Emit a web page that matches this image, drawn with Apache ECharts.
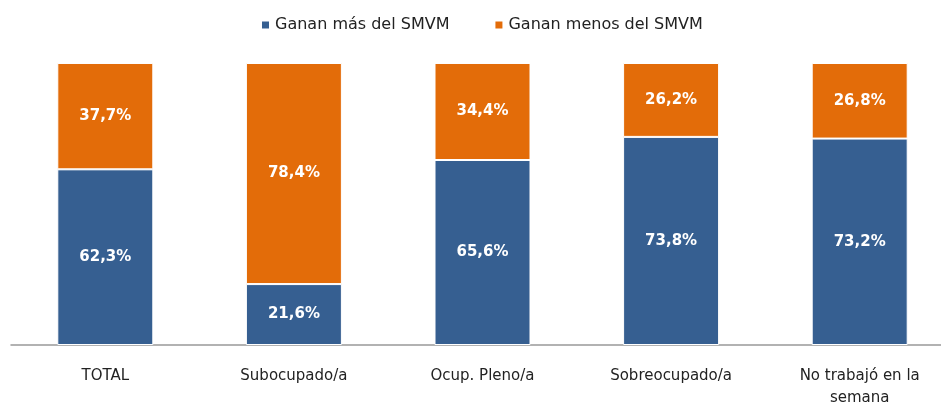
<!DOCTYPE html>
<html><head><meta charset="utf-8">
<script src="https://cdn.jsdelivr.net/npm/echarts@6/dist/echarts.min.js"></script>
<style>html,body{margin:0;padding:0;background:#fff}#c{width:941px;height:403px}</style>
</head><body><div id="c"></div>
<script>
const categories = ['TOTAL', 'Subocupado/a', 'Ocup. Pleno/a', 'Sobreocupado/a', 'No trabajó en la\nsemana'];
const seriesNames = ['Ganan más del SMVM', 'Ganan menos del SMVM'];
const masValues = [62.3, 21.6, 65.6, 73.8, 73.2];
const menosValues = [37.7, 78.4, 34.4, 26.2, 26.8];

const fmt = p => p.value.toFixed(1).replace('.', ',') + '%';
const font = 'DejaVu Sans';
const labelStyle = { show: true, position: 'inside', color: '#fff', fontWeight: 'bold', fontSize: 15, fontFamily: font, formatter: fmt };

const chart = echarts.init(document.getElementById('c'));
chart.setOption({
  animation: false,
  legend: {
    top: 12, left: 255, itemWidth: 9, itemHeight: 9, itemGap: 44,
    icon: 'rect',
    textStyle: { fontSize: 16, fontFamily: font, color: '#222' },
    data: seriesNames
  },
  grid: { left: 11, top: 63, width: 943, height: 282, outerBoundsMode: 'none', containLabel: false },
  xAxis: {
    type: 'category', data: categories,
    axisLine: { lineStyle: { color: '#999', width: 1.5 } },
    axisTick: { show: false },
    axisLabel: { fontSize: 15, fontFamily: font, color: '#222', margin: 20, lineHeight: 22, interval: 0 }
  },
  yAxis: { type: 'value', min: 0, max: 100, show: false, splitLine: { show: false } },
  series: [
    { name: seriesNames[0], type: 'bar', stack: 's', barWidth: 96, data: masValues,
      itemStyle: { color: '#365F91', borderColor: '#fff', borderWidth: 1 }, label: labelStyle },
    { name: seriesNames[1], type: 'bar', stack: 's', barWidth: 96, data: menosValues,
      itemStyle: { color: '#E36C09', borderColor: '#fff', borderWidth: 1 }, label: labelStyle }
  ]
});
</script></body></html>
